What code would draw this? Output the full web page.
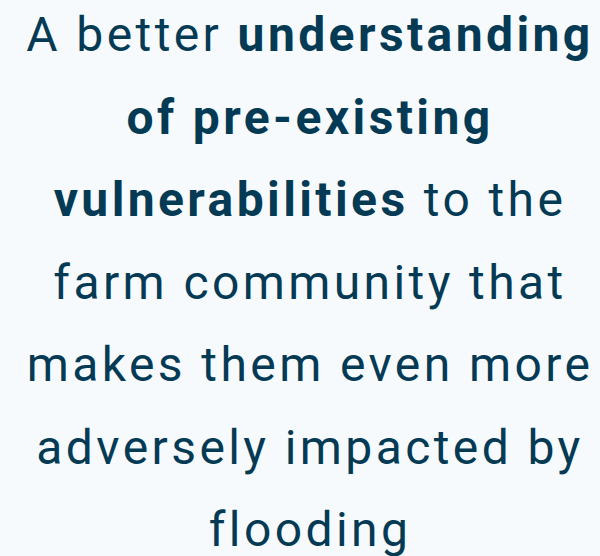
<!DOCTYPE html>
<html>
<head>
<meta charset="utf-8">
<script src="https://cdn.jsdelivr.net/npm/chart.js@4"></script>
<style>
  html, body { margin: 0; padding: 0; background: #f6fafd; }
  body { width: 600px; height: 556px; overflow: hidden; }
  #quote {
    font-family: Roboto, "Noto Sans", sans-serif;
    font-size: 48px;
    line-height: 82.5px;
    letter-spacing: 3.4px;
    color: #053a55;
    text-align: center;
    margin: 0;
    position: relative;
    top: -6px;
    left: 10px;
    white-space: nowrap;
  }
  #quote b { font-weight: 700; }
</style>
</head>
<body>
<p id="quote"></p>
<script>
// Each line as [text, bold] segments
const lines = [
  [["A better ", false], ["understanding", true]],
  [["of pre-existing", true]],
  [["vulnerabilities", true], [" to the", false]],
  [["farm community that", false]],
  [["makes them even more", false]],
  [["adversely impacted by", false]],
  [["flooding", false]]
];

const el = document.getElementById("quote");
lines.forEach((segs, i) => {
  segs.forEach(([t, bold]) => {
    const n = bold ? document.createElement("b") : document.createTextNode(t);
    if (bold) n.textContent = t;
    el.appendChild(n);
  });
  if (i < lines.length - 1) el.appendChild(document.createElement("br"));
});
</script>
</body>
</html>
